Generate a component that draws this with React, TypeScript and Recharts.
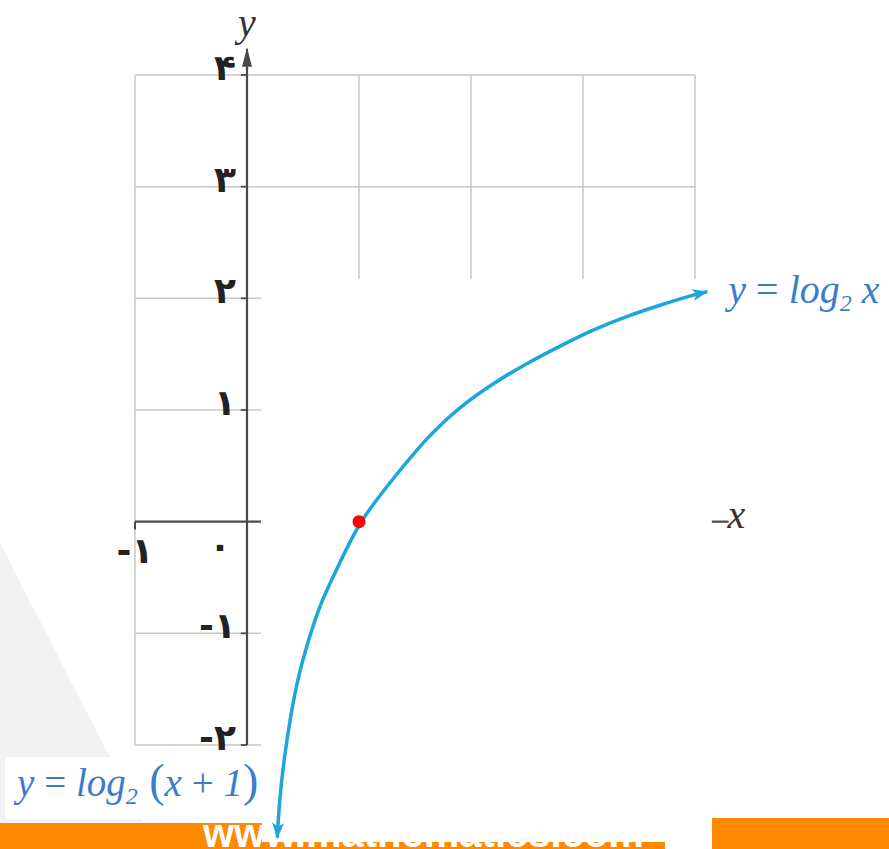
import { ComposedChart, XAxis, YAxis, ReferenceLine, ReferenceDot, Line, Scatter } from "recharts";

const W = 889;
const H = 849;

// domains chosen so that the plot area fills the whole picture
const xDomain = [-2.2054, 5.7321];
const yDomain = [-2.9313, 4.6716];

const gridX = [-1, 1, 2, 3, 4];
const gridY = [-2, -1, 1, 2, 3, 4];
const yTicks = [4, 3, 2, 1, -1, -2];
const yTickLabels = ["۴", "۳", "۲", "۱", "-۱", "-۲"];
const xTicks = [-1, 0];
const xTickLabels = ["-۱", "۰"];

const curveX = [0.27, 0.29, 0.33, 0.39, 0.46, 0.55, 0.65, 0.81, 1.0, 1.3, 1.61, 1.9, 2.2, 2.5, 2.79, 3.09, 3.39, 3.69, 3.98, 4.11];
const curveY = [-2.83, -2.49, -2.13, -1.73, -1.37, -1.06, -0.74, -0.41, 0, 0.38, 0.76, 1.03, 1.24, 1.42, 1.57, 1.72, 1.84, 1.94, 2.03, 2.06];
const curve = curveX.map((x, i) => ({ x, y: curveY[i] }));
const keyPoint = [{ x: 1, y: 0 }];

// white patch of the scan that hides part of the grid
const cover = { x1: 0.125, x2: 4.15, y1: -2.65, y2: 2.175 };
const yAxisEnd = 4.236;
const xAxisEnd = 4.3;

const GRID = "#c9c9c9";
const AXIS = "#4a4a4a";
const BLUE = "#1ca6dc";
const TEXT_BLUE = "#3b7dcc";

const digitStyle = { fontFamily: "DejaVu Sans", fontWeight: 700, fontSize: 36, fill: "#222" };
const mathStyle = { fontFamily: "Liberation Serif", fontStyle: "italic" as const };

const at = (content: any, dx: number, dy: number, props: any) => (p: any) => {
  const vb = p.viewBox || {};
  return (
    <text x={(vb.x ?? 0) + dx} y={(vb.y ?? 0) + dy} {...props}>
      {content}
    </text>
  );
};

export default function App() {
  const vLines = gridX.map((x) => {
    const inside = x > cover.x1 && x < cover.x2;
    return [
      { x, y: inside ? cover.y2 : -2 },
      { x, y: 4 },
    ];
  });
  const hLines = gridY.map((y) => {
    const inside = y > cover.y1 && y < cover.y2;
    return [
      { x: -1, y },
      { x: inside ? cover.x1 : 4, y },
    ];
  });

  return (
    <div style={{ position: "absolute", left: 0, top: 0, width: W, height: H, overflow: "hidden", background: "#fff" }}>
      <div
        style={{
          position: "absolute",
          left: 0,
          top: 0,
          width: W,
          height: H,
          background: "#f2f2f2",
          clipPath: "polygon(0px 543px, 157px 849px, 0px 849px)",
        }}
      />
      <div style={{ position: "absolute", left: 5, top: 757, width: 257, height: 62, background: "#fff" }} />
      <div style={{ position: "absolute", left: 0, top: 823, width: W, height: 26, background: "#ff8a00" }} />
      <div style={{ position: "absolute", left: 712, top: 818, width: W - 712, height: 31, background: "#ff8a00" }} />
      <div
        style={{
          position: "absolute",
          left: 203,
          top: 813,
          fontFamily: "Liberation Sans",
          fontWeight: 700,
          fontSize: 40,
          lineHeight: "40px",
          color: "#fff",
          whiteSpace: "nowrap",
        }}
      >
        www.mathematics.com
      </div>
      <div style={{ position: "absolute", left: 262, top: 790, width: 450, height: 52, background: "#fff" }} />
      <div style={{ position: "absolute", left: 665, top: 842, width: 47, height: 7, background: "#fff" }} />

      <div style={{ position: "absolute", left: 0, top: 0 }}>
        <ComposedChart width={W} height={H} margin={{ top: 0, right: 0, bottom: 0, left: 0 }}>
          <defs>
            <marker
              id="blueArrow"
              viewBox="0 0 16 12"
              refX="15"
              refY="6"
              markerWidth="16"
              markerHeight="12"
              markerUnits="userSpaceOnUse"
              orient="auto-start-reverse"
            >
              <path d="M0,0 L16,6 L0,12 L4,6 Z" fill={BLUE} />
            </marker>
            <marker
              id="darkArrow"
              viewBox="0 0 19 10"
              refX="18"
              refY="5"
              markerWidth="19"
              markerHeight="10"
              markerUnits="userSpaceOnUse"
              orient="auto"
            >
              <path d="M0,0 L19,5 L0,10 Z" fill={AXIS} />
            </marker>
          </defs>
          <XAxis type="number" dataKey="x" domain={xDomain} allowDataOverflow hide />
          <YAxis type="number" dataKey="y" domain={yDomain} allowDataOverflow hide />

          {vLines.map((seg, i) => (
            <ReferenceLine key={"v" + i} segment={seg} stroke={GRID} strokeWidth={1.5} />
          ))}
          {hLines.map((seg, i) => (
            <ReferenceLine key={"h" + i} segment={seg} stroke={GRID} strokeWidth={1.5} />
          ))}

          {/* axes */}
          <ReferenceLine
            segment={[
              { x: 0, y: -2 },
              { x: 0, y: yAxisEnd },
            ]}
            stroke={AXIS}
            strokeWidth={2.2}
            markerEnd="url(#darkArrow)"
          />
          <ReferenceLine
            segment={[
              { x: -1, y: 0 },
              { x: cover.x1, y: 0 },
            ]}
            stroke={AXIS}
            strokeWidth={2.2}
          />
          <ReferenceLine
            segment={[
              { x: cover.x2, y: 0 },
              { x: xAxisEnd, y: 0 },
            ]}
            stroke={AXIS}
            strokeWidth={2.2}
          />
          <ReferenceLine
            segment={[
              { x: -1, y: 0 },
              { x: -1, y: -0.07 },
            ]}
            stroke={AXIS}
            strokeWidth={2}
          />
          {yTicks.map((v) => (
            <ReferenceLine
              key={"t" + v}
              segment={[
                { x: -0.055, y: v },
                { x: 0, y: v },
              ]}
              stroke={AXIS}
              strokeWidth={1.8}
            />
          ))}

          {/* tick labels */}
          {yTicks.map((v, i) => (
            <ReferenceDot
              key={"yl" + v}
              x={0}
              y={v}
              r={0}
              fill="none"
              stroke="none"
              label={at(yTickLabels[i], -11, 5, { ...digitStyle, textAnchor: "end" })}
            />
          ))}
          <ReferenceDot
            x={xTicks[0]}
            y={0}
            r={0}
            fill="none"
            stroke="none"
            label={at(xTickLabels[0], 0, 41, { ...digitStyle, textAnchor: "middle" })}
          />
          <ReferenceDot
            x={xTicks[1]}
            y={0}
            r={0}
            fill="none"
            stroke="none"
            label={at(xTickLabels[1], -27, 36, { ...digitStyle, textAnchor: "middle" })}
          />

          {/* axis titles */}
          <ReferenceDot
            x={0}
            y={yAxisEnd}
            r={0}
            fill="none"
            stroke="none"
            label={at("y", 0, -13, { ...mathStyle, fontSize: 40, fill: "#333", textAnchor: "middle" })}
          />
          <ReferenceDot
            x={xAxisEnd}
            y={0}
            r={0}
            fill="none"
            stroke="none"
            label={at("x", -1, 6, { ...mathStyle, fontSize: 40, fill: "#333", textAnchor: "start" })}
          />

          {/* curve labels */}
          <ReferenceDot
            x={curveX[curveX.length - 1]}
            y={curveY[curveY.length - 1]}
            r={0}
            fill="none"
            stroke="none"
            label={at(
              [
                <tspan key="a">y</tspan>,
                <tspan key="b" fontStyle="normal"> = </tspan>,
                <tspan key="c">log</tspan>,
                <tspan key="d" dy={8} fontSize={24}>2</tspan>,
                <tspan key="e" dy={-8}> x</tspan>,
              ],
              21,
              11,
              { ...mathStyle, fontSize: 40, fill: TEXT_BLUE, textAnchor: "start" }
            )}
          />
          <ReferenceDot
            x={curveX[0]}
            y={curveY[0]}
            r={0}
            fill="none"
            stroke="none"
            label={at(
              [
                <tspan key="a">y</tspan>,
                <tspan key="b" fontStyle="normal"> = </tspan>,
                <tspan key="c">log</tspan>,
                <tspan key="d" dy={8} fontSize={24}>2</tspan>,
                <tspan key="e" dy={-8} fontStyle="normal" fontSize={46}> (</tspan>,
                <tspan key="f">x</tspan>,
                <tspan key="g" fontStyle="normal"> + </tspan>,
                <tspan key="h">1</tspan>,
                <tspan key="i" fontStyle="normal" fontSize={46}>)</tspan>,
              ],
              -19,
              -42,
              { ...mathStyle, fontSize: 39, fill: TEXT_BLUE, textAnchor: "end" }
            )}
          />

          <Line
            data={curve}
            dataKey="y"
            type="basis"
            stroke={BLUE}
            strokeWidth={3.5}
            dot={false}
            activeDot={false}
            isAnimationActive={false}
            markerStart="url(#blueArrow)"
            markerEnd="url(#blueArrow)"
          />
          <Scatter
            data={keyPoint}
            dataKey="y"
            fill="#ff0000"
            isAnimationActive={false}
            shape={(p: any) => <circle cx={p.cx} cy={p.cy} r={6.5} fill="#ff0000" />}
          />
        </ComposedChart>
      </div>
    </div>
  );
}
